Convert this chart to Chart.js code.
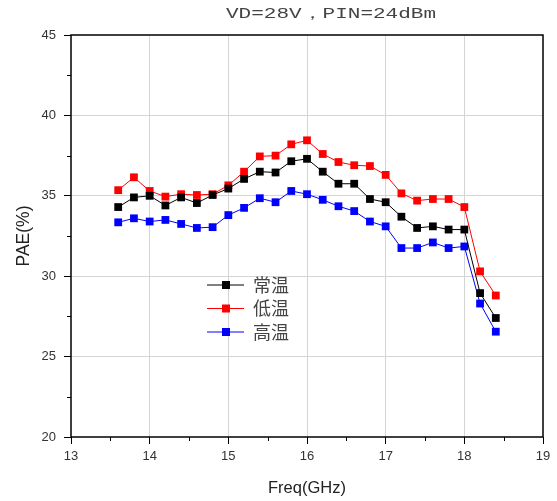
<!DOCTYPE html>
<html>
<head>
<meta charset="utf-8">
<script src="https://cdn.jsdelivr.net/npm/chart.js@4"></script>
<style>
  html, body { margin: 0; padding: 0; background: #fff; }
  #wrap { width: 557px; height: 501px; }
</style>
</head>
<body>
<div id="wrap"><canvas id="paeChart" width="557" height="501"></canvas></div>
<script>
var chartTitle = "VD=28V\uFF0CPIN=24dBm";
var seriesNames = ["常温", "低温", "高温"];
var seriesColors = ["#000000", "#ff0000", "#0000ff"];
var freqs = [13.6, 13.8, 14.0, 14.2, 14.4, 14.6, 14.8, 15.0, 15.2, 15.4, 15.6, 15.8, 16.0,
             16.2, 16.4, 16.6, 16.8, 17.0, 17.2, 17.4, 17.6, 17.8, 18.0, 18.2, 18.4];
var paeNormal = [34.3, 34.9, 35.0, 34.4, 34.9, 34.55, 35.05, 35.45, 36.05, 36.5, 36.45, 37.15, 37.3,
                 36.5, 35.75, 35.75, 34.8, 34.6, 33.7, 33.0, 33.1, 32.9, 32.9, 28.95, 27.4];
var paeLow = [35.35, 36.15, 35.3, 34.95, 35.1, 35.05, 35.1, 35.65, 36.5, 37.45, 37.5, 38.2, 38.45,
              37.6, 37.1, 36.9, 36.85, 36.3, 35.15, 34.7, 34.8, 34.8, 34.3, 30.3, 28.8];
var paeHigh = [33.35, 33.6, 33.4, 33.5, 33.25, 33.0, 33.05, 33.8, 34.25, 34.85, 34.6, 35.3, 35.1,
               34.75, 34.35, 34.05, 33.4, 33.1, 31.75, 31.75, 32.1, 31.75, 31.85, 28.3, 26.55];
var xTicks = [13, 14, 15, 16, 17, 18, 19];
var yTicks = [20, 25, 30, 35, 40, 45];

function toPoints(vals) {
  return freqs.map(function (f, i) { return { x: f, y: vals[i] }; });
}

var seriesValues = [paeNormal, paeLow, paeHigh];
var datasets = seriesValues.map(function (vals, i) {
  return {
    label: seriesNames[i],
    data: toPoints(vals),
    borderColor: seriesColors[i],
    backgroundColor: seriesColors[i],
    borderWidth: 1,
    pointStyle: 'rect',
    pointRadius: 5.5,
    pointHoverRadius: 5.5,
    pointBorderWidth: 0,
    tension: 0
  };
});

// frame, minor ticks, title and in-plot legend
var extras = {
  id: 'extras',
  afterDraw: function (chart) {
    var ctx = chart.ctx, a = chart.chartArea;
    var xs = chart.scales.x, ys = chart.scales.y;
    ctx.save();
    ctx.strokeStyle = '#000';
    ctx.lineWidth = 1.5;
    ctx.strokeRect(a.left, a.top, a.right - a.left, a.bottom - a.top);

    // minor ticks halfway between labelled ones
    ctx.lineWidth = 1;
    ctx.beginPath();
    for (var i = 0; i < xTicks.length - 1; i++) {
      var px = Math.round(xs.getPixelForValue((xTicks[i] + xTicks[i + 1]) / 2)) + 0.5;
      ctx.moveTo(px, a.bottom);
      ctx.lineTo(px, a.bottom + 4);
    }
    for (var j = 0; j < yTicks.length - 1; j++) {
      var py = Math.round(ys.getPixelForValue((yTicks[j] + yTicks[j + 1]) / 2)) + 0.5;
      ctx.moveTo(a.left, py);
      ctx.lineTo(a.left - 4, py);
    }
    ctx.stroke();

    // title
    ctx.fillStyle = '#444';
    ctx.font = '15px "Liberation Mono", monospace';
    ctx.textBaseline = 'middle';
    ctx.textAlign = 'center';
    ctx.save();
    ctx.translate(331, 14);
    ctx.scale(1.4, 1);
    ctx.fillText(chartTitle, 0, 0);
    ctx.restore();

    // legend
    ctx.textAlign = 'left';
    ctx.font = '18px "Noto Sans CJK SC", sans-serif';
    chart.data.datasets.forEach(function (ds, k) {
      var y = 285 + k * 23.5;
      ctx.strokeStyle = ds.borderColor;
      ctx.lineWidth = 1;
      ctx.beginPath();
      ctx.moveTo(207, y);
      ctx.lineTo(244, y);
      ctx.stroke();
      ctx.fillStyle = ds.backgroundColor;
      ctx.fillRect(222, y - 4, 8, 8);
      ctx.fillStyle = '#444';
      ctx.fillText(ds.label, 253, y);
    });
    ctx.restore();
  }
};

new Chart(document.getElementById('paeChart'), {
  type: 'line',
  data: { datasets: datasets },
  options: {
    responsive: false,
    animation: false,
    layout: { padding: { top: 35, right: 14, left: 0, bottom: 0 } },
    plugins: {
      legend: { display: false },
      title: { display: false },
      tooltip: { enabled: false }
    },
    scales: {
      x: {
        type: 'linear',
        min: 13,
        max: 19,
        afterFit: function (s) { s.height = 64; },
        afterBuildTicks: function (s) {
          s.ticks = xTicks.map(function (v) { return { value: v }; });
        },
        border: { display: false },
        grid: {
          color: function (c) { return c.tick && c.tick.value !== 13 && c.tick.value !== 19 ? '#d4d4d4' : 'rgba(0,0,0,0)'; },
          tickColor: '#000',
          tickLength: 7,
          lineWidth: 1
        },
        ticks: {
          autoSkip: false,
          maxRotation: 0,
          padding: 5,
          color: '#333',
          font: { family: '"Liberation Sans", Arial, sans-serif', size: 13 }
        },
        title: {
          display: true,
          text: 'Freq(GHz)',
          color: '#222',
          font: { family: '"Liberation Sans", Arial, sans-serif', size: 16.5 },
          padding: { top: 0, bottom: 3 }
        }
      },
      y: {
        min: 20,
        max: 45,
        afterFit: function (s) { s.width = 71; },
        afterBuildTicks: function (s) {
          s.ticks = yTicks.map(function (v) { return { value: v }; });
        },
        border: { display: false },
        grid: {
          color: function (c) { return c.tick && c.tick.value !== 20 && c.tick.value !== 45 ? '#d4d4d4' : 'rgba(0,0,0,0)'; },
          tickColor: '#000',
          tickLength: 7,
          lineWidth: 1
        },
        ticks: {
          autoSkip: false,
          padding: 8,
          color: '#333',
          font: { family: '"Liberation Sans", Arial, sans-serif', size: 13 }
        },
        title: {
          display: true,
          text: 'PAE(%)',
          color: '#222',
          font: { family: '"Liberation Sans", Arial, sans-serif', size: 17.5 },
          padding: { top: 14, bottom: 8 }
        }
      }
    }
  },
  plugins: [extras]
});
</script>
</body>
</html>
